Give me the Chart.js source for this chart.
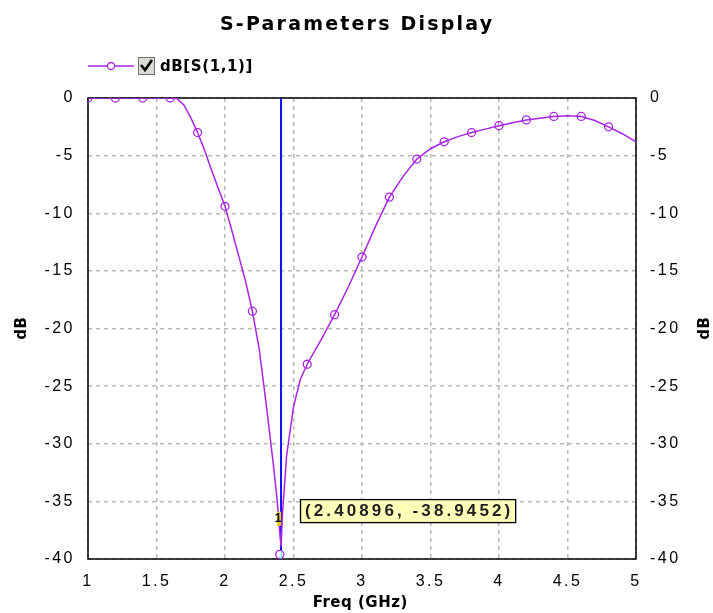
<!DOCTYPE html>
<html>
<head>
<meta charset="utf-8">
<script src="https://cdn.jsdelivr.net/npm/chart.js@4.4.1/dist/chart.umd.min.js"></script>
<style>
html,body{margin:0;padding:0;background:#fff;}
canvas{display:block;}
</style>
</head>
<body>
<canvas id="c" width="713" height="613"></canvas>
<script>
// ---- data ----
const freqGHz = [1.0,1.2,1.4,1.6,1.65,1.7,1.75,1.8,1.85,1.9,1.95,2.0,2.05,2.1,2.15,2.2,2.25,2.3,2.35,2.38,2.4,2.409,2.42,2.45,2.5,2.55,2.6,2.7,2.8,2.9,3.0,3.1,3.2,3.3,3.4,3.5,3.6,3.7,3.8,3.9,4.0,4.1,4.2,4.3,4.4,4.5,4.6,4.7,4.8,4.9,5.0];
const s11dB = [0,0,0,0,-0.05,-0.6,-1.7,-3.0,-4.5,-6.2,-7.8,-9.4,-11.5,-13.7,-15.9,-18.5,-21.8,-26.5,-31.5,-34.8,-37.8,-38.95,-36.0,-31.0,-26.8,-24.4,-23.1,-21.0,-18.8,-16.4,-13.8,-11.1,-8.6,-6.8,-5.3,-4.4,-3.8,-3.35,-3.0,-2.7,-2.4,-2.15,-1.9,-1.75,-1.6,-1.55,-1.6,-1.95,-2.5,-3.1,-3.8];
const markerFreq = [1.0,1.2,1.4,1.6,1.8,2.0,2.2,2.4,2.6,2.8,3.0,3.2,3.4,3.6,3.8,4.0,4.2,4.4,4.6,4.8];
const markerDb = [0,0,0,0,-3.0,-9.4,-18.5,-39.6,-23.1,-18.8,-13.8,-8.6,-5.3,-3.8,-3.0,-2.4,-1.9,-1.6,-1.6,-2.5];
const xTicks = [1,1.5,2,2.5,3,3.5,4,4.5,5];
const xTickLabels = ['1','1.5','2','2.5','3','3.5','4','4.5','5'];
const yTicks = [0,-5,-10,-15,-20,-25,-30,-35,-40];
const yTickLabels = ['0','-5','-10','-15','-20','-25','-30','-35','-40'];
const markerPoint = {f:2.40896, db:-38.9452};
const markerLabel = '(2.40896, -38.9452)';
const titleText = 'S-Parameters Display';
const seriesName = 'dB[S(1,1)]';
const xTitle = 'Freq (GHz)';
const yTitle = 'dB';

const PURPLE = '#a925e6';
const FONT = '"Liberation Sans", Arial, sans-serif';
const BFONT = '"DejaVu Sans", Verdana, sans-serif';
const TICK_SP = '2.5px';

const lineData = freqGHz.map((f,i)=>({x:f,y:s11dB[i]}));
const markData = markerFreq.map((f,i)=>({x:f,y:markerDb[i]}));
const vline = [{x:markerPoint.f,y:0},{x:markerPoint.f,y:-39.3}];

const spacing = {
  id:'spacing',
  beforeLayout(chart){ chart.ctx.letterSpacing=TICK_SP; },
  beforeDraw(chart){ chart.ctx.letterSpacing=TICK_SP; }
};

function label(ctx, txt, x, y, sp){
  ctx.letterSpacing = sp+'px';
  const w = ctx.measureText(txt).width - sp;
  ctx.textAlign='left';
  ctx.fillText(txt, x - w/2, y);
}

const deco = {
  id:'deco',
  beforeDatasetsDraw(chart){
    const {ctx, chartArea:a} = chart;
    ctx.save();
    ctx.strokeStyle='#000'; ctx.lineWidth=1.5;
    ctx.strokeRect(a.left, a.top, a.right-a.left, a.bottom-a.top);
    ctx.restore();
  },
  afterDraw(chart){
    const {ctx, chartArea:a, scales} = chart;
    ctx.save();
    ctx.fillStyle='#000';
    ctx.textBaseline='middle';
    // title
    ctx.font='bold 19px '+BFONT;
    label(ctx, titleText, 356, 25, 2.2);
    // legend
    ctx.letterSpacing='0px';
    ctx.strokeStyle=PURPLE; ctx.lineWidth=1.3;
    ctx.beginPath(); ctx.moveTo(88,66); ctx.lineTo(134,66); ctx.stroke();
    ctx.beginPath(); ctx.arc(111,66,3.5,0,Math.PI*2); ctx.fillStyle='#fff'; ctx.fill(); ctx.stroke();
    ctx.fillStyle='#dcdcd4'; ctx.fillRect(138,57,17,18);
    ctx.strokeStyle='#707070'; ctx.lineWidth=1; ctx.strokeRect(138.5,57.5,16,17);
    ctx.strokeStyle='#000'; ctx.lineWidth=2.6;
    ctx.beginPath(); ctx.moveTo(141,65); ctx.lineTo(145,70); ctx.lineTo(152,60); ctx.stroke();
    ctx.fillStyle='#000';
    ctx.font='bold 15px '+BFONT; ctx.letterSpacing='0.6px'; ctx.textAlign='left';
    ctx.fillText(seriesName, 160, 67);
    // axis titles
    ctx.font='bold 15px '+BFONT;
    label(ctx, xTitle, 360, 603, 0.5);
    const ymid=(a.top+a.bottom)/2;
    [22, 705].forEach(x=>{
      ctx.save(); ctx.translate(x, ymid); ctx.rotate(-Math.PI/2);
      label(ctx, yTitle, 0, 0, 0.5); ctx.restore();
    });
    // marker annotation
    const px = scales.x.getPixelForValue(markerPoint.f);
    const py = scales.y.getPixelForValue(-35.8);
    ctx.font='bold 17px '+FONT; ctx.letterSpacing='3.1px';
    const tw = ctx.measureText(markerLabel).width-3.1;
    const bx = px+19, bw = tw+10, bh=23;
    ctx.fillStyle='#ffffb8';
    ctx.fillRect(bx, py-bh/2, bw, bh);
    ctx.strokeStyle='#000'; ctx.lineWidth=1.3;
    ctx.strokeRect(bx+0.5, py-bh/2+0.5, bw, bh);
    ctx.fillStyle='#222'; ctx.textAlign='left';
    ctx.fillText(markerLabel, bx+5, py+1);
    // marker id "1"
    ctx.letterSpacing='0px';
    const ly = scales.y.getPixelForValue(-36.5);
    ctx.fillStyle='#e8d000'; ctx.fillRect(px-4, ly-7, 4, 14);
    ctx.fillStyle='#000'; ctx.font='bold 12px '+FONT; ctx.textAlign='center';
    ctx.fillText('1', px-3, ly);
    ctx.strokeStyle='#40e0e0'; ctx.lineWidth=1;
    ctx.beginPath(); ctx.moveTo(px+0.5, scales.y.getPixelForValue(-39.3)); ctx.lineTo(px+0.5, a.bottom); ctx.stroke();
    ctx.restore();
  }
};

const tickFont = {family: FONT, size: 16};

new Chart(document.getElementById('c'), {
  type:'line',
  data:{
    datasets:[
      {data: vline, borderColor:'#1010ff', borderWidth:2, pointRadius:0, yAxisID:'y', order:3},
      {data: lineData, borderColor:PURPLE, borderWidth:1.5, pointRadius:0, tension:0, yAxisID:'y', order:2},
      {data: markData, showLine:false, borderColor:PURPLE, backgroundColor:'rgba(255,255,255,0)', pointRadius:4, pointBorderWidth:1.3, pointStyle:'circle', yAxisID:'y', order:1}
    ]
  },
  options:{
    responsive:false, animation:false, devicePixelRatio:1,
    layout:{padding:{top:98,left:0,right:0,bottom:0}},
    plugins:{legend:{display:false}, title:{display:false}, tooltip:{enabled:false}},
    scales:{
      x:{type:'linear', min:1, max:5,
        afterBuildTicks(s){ s.ticks = xTicks.map(v=>({value:v})); },
        afterFit(s){ s.height = 54; },
        ticks:{font:tickFont, color:'#000', padding:13, maxRotation:0, autoSkip:false,
          callback:(v,i)=>xTickLabels[i]},
        grid:{color:'#b8b8b8', lineWidth:1.5, drawTicks:false},
        border:{display:false, dash:[4,4]}
      },
      y:{type:'linear', position:'left', min:-40, max:0,
        afterBuildTicks(s){ s.ticks = yTicks.map(v=>({value:v})); },
        afterFit(s){ s.width = 88; },
        ticks:{font:tickFont, color:'#000', padding:13, autoSkip:false,
          callback:(v,i)=>yTickLabels[i]},
        grid:{color:'#b8b8b8', lineWidth:1.5, drawTicks:false},
        border:{display:false, dash:[4,4]}
      },
      y2:{type:'linear', position:'right', min:-40, max:0,
        afterBuildTicks(s){ s.ticks = yTicks.map(v=>({value:v})); },
        afterFit(s){ s.width = 77; },
        ticks:{font:tickFont, color:'#000', padding:14, autoSkip:false,
          callback:(v,i)=>yTickLabels[i]},
        grid:{display:false, drawTicks:false},
        border:{display:false}
      }
    }
  },
  plugins:[spacing, deco]
});
</script>
</body>
</html>
